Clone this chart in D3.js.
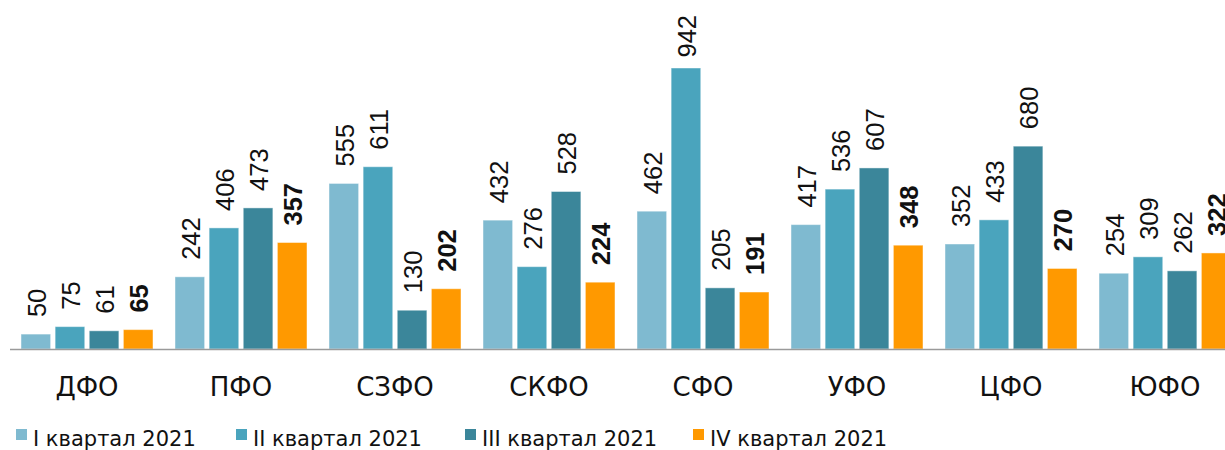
<!DOCTYPE html>
<html>
<head>
<meta charset="utf-8">
<script src="https://cdn.jsdelivr.net/npm/d3@7"></script>
<style>
  html, body { margin: 0; padding: 0; background: #fff; overflow: hidden; }
  svg { display: block; }
</style>
</head>
<body>
<svg id="chart" width="1225" height="450"></svg>
<script>
const categories = ["ДФО", "ПФО", "СЗФО", "СКФО", "СФО", "УФО", "ЦФО", "ЮФО"];
const seriesNames = ["I квартал 2021", "II квартал 2021", "III квартал 2021", "IV квартал 2021"];
const q1 = [50, 242, 555, 432, 462, 417, 352, 254];
const q2 = [75, 406, 611, 276, 942, 536, 433, 309];
const q3 = [61, 473, 130, 528, 205, 607, 680, 262];
const q4 = [65, 357, 202, 224, 191, 348, 270, 322];
const seriesValues = [q1, q2, q3, q4];
const colors = ["#7fbad0", "#4aa4bd", "#3b869a", "#ff9900"];
const boldSeries = [false, false, false, true];
const legendX = [16, 236, 465, 693];

const svg = d3.select("#chart");
const baseY = 349;

const x0 = d3.scaleBand().domain(categories).range([10, 10 + 8 * 154])
  .paddingInner(0.143).paddingOuter(0.0715);
const x1 = d3.scaleBand().domain(d3.range(seriesNames.length))
  .range([0, x0.bandwidth()]).paddingInner(0.132).paddingOuter(0);
const y = d3.scaleLinear().domain([0, 1000]).range([baseY, baseY - 298.3]);

const data = [];
categories.forEach((c, ci) => {
  seriesValues.forEach((vals, si) => {
    data.push({ cat: c, s: si, v: vals[ci] });
  });
});

// bars
svg.append("g").selectAll("rect").data(data).join("rect")
  .attr("x", d => x0(d.cat) + x1(d.s))
  .attr("y", d => y(d.v))
  .attr("width", x1.bandwidth())
  .attr("height", d => baseY - y(d.v))
  .attr("fill", d => colors[d.s])
  .attr("stroke", "rgba(255,255,255,0.45)")
  .attr("stroke-width", 1);

// axis line (x axis without ticks)
const axis = d3.axisBottom(x0).tickSize(0).tickPadding(0).tickFormat("");
const axG = svg.append("g").attr("transform", `translate(0,${baseY + 0.5})`).call(axis);
axG.select(".domain").attr("stroke", "#9a9a9a").attr("stroke-width", 1.6)
  .attr("d", "M10,0H1225");

// category labels
svg.append("g").selectAll("text").data(categories).join("text")
  .attr("x", d => x0(d) + x0.bandwidth() / 2)
  .attr("y", 396)
  .attr("text-anchor", "middle")
  .attr("font-family", "DejaVu Sans, sans-serif")
  .attr("font-size", 26)
  .attr("fill", "#111")
  .text(d => d);

// value labels (rotated)
const lab = svg.append("g").selectAll("text").data(data).join("text")
  .attr("text-anchor", "start")
  .attr("font-family", "Liberation Sans, Arial, sans-serif")
  .attr("font-size", 25.5)
  .attr("font-weight", d => boldSeries[d.s] ? "bold" : "normal")
  .attr("fill", "#111")
  .attr("dy", "0.36em")
  .text(d => d.v);
lab.each(function(d) {
  const len = this.getComputedTextLength();
  const cx = x0(d.cat) + x1(d.s) + x1.bandwidth() / 2 + 1;
  let start = y(d.v) - 17;
  if (start - len < 15) start = 15 + len;
  d3.select(this).attr("transform", `translate(${cx},${start}) rotate(-90)`);
});

// legend
const lg = svg.append("g").selectAll("g").data(seriesNames).join("g")
  .attr("transform", (d, i) => `translate(${legendX[i]},0)`);
lg.append("rect").attr("x", 0).attr("y", 429).attr("width", 11).attr("height", 11)
  .attr("fill", (d, i) => colors[i]);
lg.append("text").attr("x", 17).attr("y", 446)
  .attr("font-family", "DejaVu Sans, sans-serif")
  .attr("font-size", 21)
  .attr("fill", "#111")
  .text(d => d);
</script>
</body>
</html>
